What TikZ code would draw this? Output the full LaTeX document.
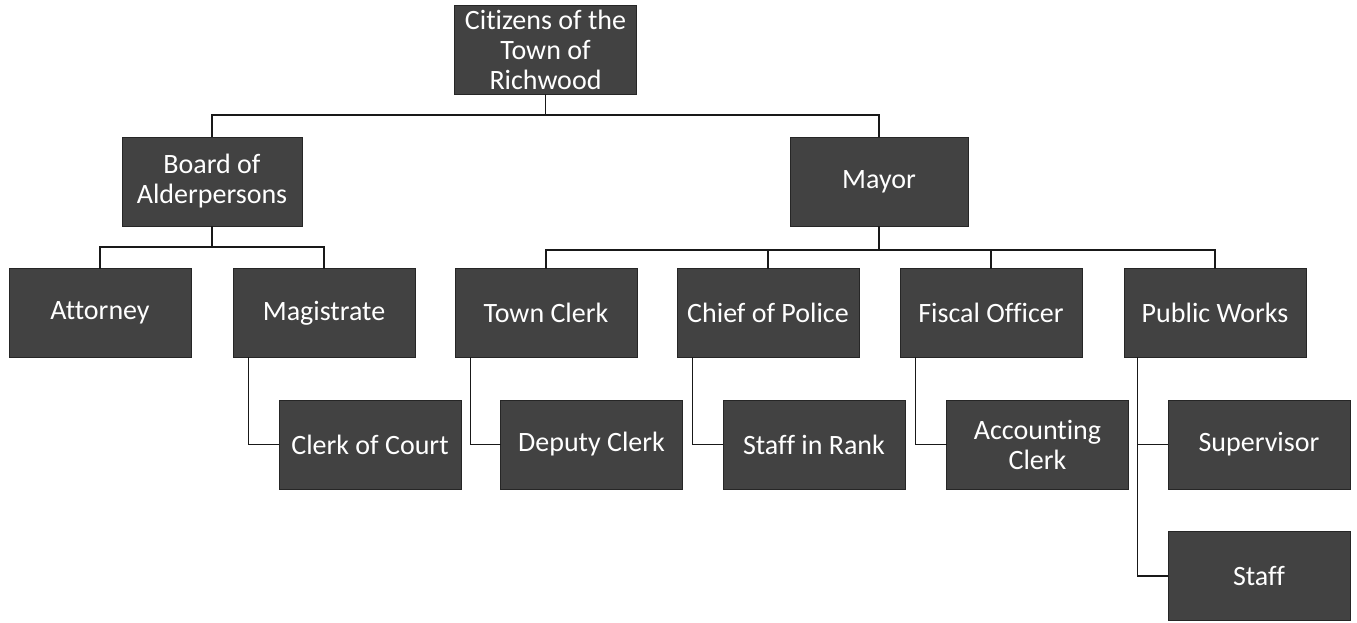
\documentclass[tikz,border=0pt]{standalone}
\usepackage{fontspec}
\setmainfont{Carlito}[Ligatures=NoCommon]
\definecolor{boxgray}{RGB}{66,66,66}
\begin{document}
\begin{tikzpicture}[
		x=1pt,
		y=1pt,
		line cap=rect,
		unit/.style={draw=black!85,line width=1pt,fill=boxgray,text=white,align=center,
			minimum width=182pt,minimum height=89pt,inner sep=1pt,
			font=\fontsize{28}{30}\selectfont},
		link/.style={line width=1.6pt,color=black!90}
	]
		\useasboundingbox (0,0) rectangle (1357,-622);
		\node[unit] (cit) at (545.5,-50) {Citizens of the\\Town of\\Richwood};
		\node[unit,minimum width=180pt] (board) at (212,-181.5) {Board of\\Alderpersons};
		\node[unit,minimum width=178pt] (mayor) at (879,-181.5) {Mayor};
		\node[unit] (att) at (100,-313) {Attorney};
		\node[unit] (mag) at (324,-313) {Magistrate};
		\node[unit] (tclerk) at (546,-313) {Town Clerk};
		\node[unit] (chief) at (768,-313) {Chief of Police};
		\node[unit] (fiscal) at (991,-313) {Fiscal Officer};
		\node[unit] (pworks) at (1215,-313) {Public Works};
		\node[unit] (court) at (370,-444.5) {Clerk of Court};
		\node[unit] (deputy) at (591.5,-444.5) {Deputy Clerk};
		\node[unit] (rank) at (814,-444.5) {Staff in Rank};
		\node[unit] (acct) at (1037.5,-444.5) {Accounting\\Clerk};
		\node[unit] (superv) at (1259,-444.5) {Supervisor};
		\node[unit] (staff) at (1259,-576) {Staff};
		\coordinate (topbus) at (545.5,-115);
		\coordinate (boardbus) at (212,-247);
		\coordinate (mayorbus) at (879,-250);
		\draw[link] (cit.south) -- (topbus);
		\draw[link] (board.north) |- (topbus) -| (mayor.north);
		\draw[link] (board.south) -- (boardbus);
		\draw[link] (att.north) |- (boardbus) -| (mag.north);
		\draw[link] (mayor.south) -- (mayorbus);
		\draw[link] (tclerk.north) |- (mayorbus) -| (pworks.north);
		\draw[link] (chief.north) -- (chief.north |- mayorbus);
		\draw[link] (fiscal.north) -- (fiscal.north |- mayorbus);
		\draw[link] ([xshift=16pt]mag.south west) |- (court.west);
		\draw[link] ([xshift=16pt]tclerk.south west) |- (deputy.west);
		\draw[link] ([xshift=16pt]chief.south west) |- (rank.west);
		\draw[link] ([xshift=16pt]fiscal.south west) |- (acct.west);
		\draw[link] ([xshift=14pt]pworks.south west) |- (superv.west);
		\draw[link] ([xshift=14pt]pworks.south west) |- (staff.west);
	\end{tikzpicture}
\end{document}
